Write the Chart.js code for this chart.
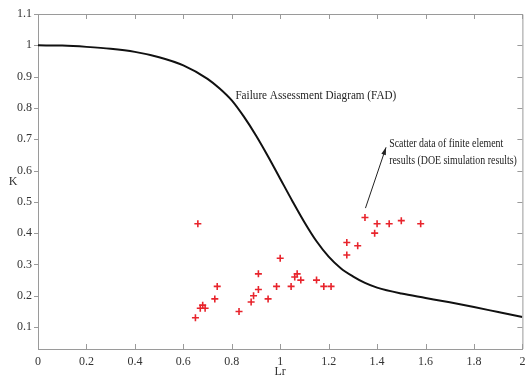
<!DOCTYPE html>
<html>
<head>
<meta charset="utf-8">
<script src="https://cdn.jsdelivr.net/npm/chart.js@4.4.1/dist/chart.umd.min.js"></script>
<style>
  html, body { margin: 0; padding: 0; background: #fff; }
  canvas { display: block; }
</style>
</head>
<body>
<canvas id="fad-chart" width="528" height="379"></canvas>
<script>
// FAD curve
const curveLr = [0, 0.1, 0.2, 0.3, 0.4, 0.5, 0.6, 0.7, 0.75, 0.8, 0.85, 0.9, 0.95, 1.0,
  1.05, 1.1, 1.15, 1.2, 1.25, 1.3, 1.35, 1.4, 1.5, 1.6, 1.7, 1.8, 1.9, 2.0];
const curveK = [1.0, 0.999, 0.995, 0.989, 0.979, 0.962, 0.936, 0.893, 0.862, 0.824, 0.772, 0.712, 0.645, 0.574,
  0.503, 0.435, 0.374, 0.325, 0.288, 0.262, 0.241, 0.226, 0.207, 0.193, 0.179, 0.164, 0.148, 0.132];

// scatter data (DOE simulation results)
const pointLr = [0.66, 0.65, 0.67, 0.68, 0.69, 0.73, 0.74, 0.83, 0.88, 0.89, 0.91, 0.91, 0.95, 0.985, 1.0, 1.045,
  1.06, 1.07, 1.085, 1.15, 1.18, 1.21, 1.275, 1.275, 1.32, 1.35, 1.39, 1.4, 1.45, 1.5, 1.58];
const pointK = [0.43, 0.13, 0.16, 0.17, 0.16, 0.19, 0.23, 0.15, 0.18, 0.2, 0.22, 0.27, 0.19, 0.23, 0.32, 0.23,
  0.26, 0.27, 0.25, 0.25, 0.23, 0.23, 0.33, 0.37, 0.36, 0.45, 0.4, 0.43, 0.43, 0.44, 0.43];

// tick labels
const lrTicks = [0, 0.2, 0.4, 0.6, 0.8, 1, 1.2, 1.4, 1.6, 1.8, 2];
const kTicks = [0.1, 0.2, 0.3, 0.4, 0.5, 0.6, 0.7, 0.8, 0.9, 1, 1.1];

const serif = "'Liberation Serif', 'DejaVu Serif', serif";
const axisGray = '#9a9a9a';

// inward tick marks + top/right box, MATLAB style
const boxPlugin = {
  id: 'box',
  afterDraw(chart) {
    const { ctx, chartArea: a, scales } = chart;
    ctx.save();
    ctx.strokeStyle = axisGray;
    ctx.lineWidth = 1;
    ctx.beginPath();
    ctx.moveTo(a.left, a.top + 0.5);
    ctx.lineTo(a.right + 0.5, a.top + 0.5);
    ctx.lineTo(a.right + 0.5, a.bottom);
    lrTicks.forEach(v => {
      const px = Math.round(scales.x.getPixelForValue(v)) + 0.5;
      ctx.moveTo(px, a.bottom); ctx.lineTo(px, a.bottom - 5);
      ctx.moveTo(px, a.top); ctx.lineTo(px, a.top + 5);
    });
    kTicks.forEach(v => {
      const py = Math.round(scales.y.getPixelForValue(v)) + 0.5;
      ctx.moveTo(a.left - 4, py); ctx.lineTo(a.left, py);
      ctx.moveTo(a.right, py); ctx.lineTo(a.right - 5, py);
    });
    ctx.stroke();

    // upright y axis title
    ctx.fillStyle = '#333';
    ctx.font = '12px ' + serif;
    ctx.textAlign = 'center';
    ctx.textBaseline = 'middle';
    ctx.fillText('K', 13, (a.top + a.bottom) / 2);
    ctx.restore();
  }
};

// text labels and arrow
const notePlugin = {
  id: 'notes',
  afterDatasetsDraw(chart) {
    const { ctx, scales: { x, y } } = chart;
    ctx.save();
    ctx.fillStyle = '#222';
    ctx.font = '13px ' + serif;
    ctx.textBaseline = 'middle';

    const writeText = (txt, lr, k, sx) => {
      ctx.save();
      ctx.translate(x.getPixelForValue(lr), y.getPixelForValue(k));
      ctx.scale(sx, 1);
      ctx.fillText(txt, 0, 0);
      ctx.restore();
    };
    writeText('Failure Assessment Diagram (FAD)', 0.815, 0.838, 0.86);
    writeText('Scatter data of finite element', 1.45, 0.686, 0.76);
    writeText('results (DOE simulation results)', 1.45, 0.632, 0.76);

    // arrow
    const x0 = x.getPixelForValue(1.352), y0 = y.getPixelForValue(0.48);
    const x1 = x.getPixelForValue(1.437), y1 = y.getPixelForValue(0.674);
    const ang = Math.atan2(y1 - y0, x1 - x0);
    ctx.strokeStyle = '#222';
    ctx.lineWidth = 1;
    ctx.beginPath();
    ctx.moveTo(x0, y0);
    ctx.lineTo(x1, y1);
    ctx.stroke();
    ctx.beginPath();
    ctx.moveTo(x1, y1);
    ctx.lineTo(x1 - 8 * Math.cos(ang - 0.3), y1 - 8 * Math.sin(ang - 0.3));
    ctx.lineTo(x1 - 8 * Math.cos(ang + 0.3), y1 - 8 * Math.sin(ang + 0.3));
    ctx.closePath();
    ctx.fill();
    ctx.restore();
  }
};

const ctx = document.getElementById('fad-chart').getContext('2d');

new Chart(ctx, {
  type: 'scatter',
  data: {
    datasets: [
      {
        type: 'line',
        label: 'FAD',
        data: curveLr.map((v, i) => ({ x: v, y: curveK[i] })),
        borderColor: '#111',
        borderWidth: 2,
        pointRadius: 0,
        fill: false,
        cubicInterpolationMode: 'monotone',
      },
      {
        label: 'DOE',
        data: pointLr.map((v, i) => ({ x: v, y: pointK[i] })),
        pointStyle: 'cross',
        pointRadius: 3.5,
        borderWidth: 1.6,
        borderColor: '#e8242c',
        backgroundColor: '#e8242c',
      },
    ],
  },
  options: {
    responsive: false,
    animation: false,
    devicePixelRatio: 1,
    layout: { padding: { top: 14, right: 3, left: 0, bottom: 0 } },
    plugins: {
      legend: { display: false },
      tooltip: { enabled: false },
    },
    scales: {
      x: {
        type: 'linear',
        min: 0,
        max: 2,
        afterBuildTicks: s => { s.ticks = lrTicks.map(v => ({ value: v })); },
        ticks: { font: { family: serif, size: 12 }, color: '#333', padding: 6, maxRotation: 0, autoSkip: false,
          callback: v => String(Math.round(v * 10) / 10) },
        grid: { drawOnChartArea: false, drawTicks: false },
        border: { display: true, color: axisGray },
        title: { display: true, text: 'Lr', font: { family: serif, size: 12 }, color: '#333', padding: { top: 0, bottom: 0 } },
        afterFit: s => { s.height = 30; s.paddingLeft = 0; s.paddingRight = 0; },
      },
      y: {
        type: 'linear',
        min: 0.03,
        max: 1.1,
        afterBuildTicks: s => { s.ticks = kTicks.map(v => ({ value: v })); },
        ticks: { font: { family: serif, size: 12 }, color: '#333', padding: 6, autoSkip: false,
          callback: v => String(Math.round(v * 10) / 10) },
        grid: { drawOnChartArea: false, drawTicks: false },
        border: { display: true, color: axisGray },
        afterFit: s => { s.width = 38; s.paddingTop = 0; s.paddingBottom = 0; },
      },
    },
  },
  plugins: [boxPlugin, notePlugin],
});
</script>
</body>
</html>
